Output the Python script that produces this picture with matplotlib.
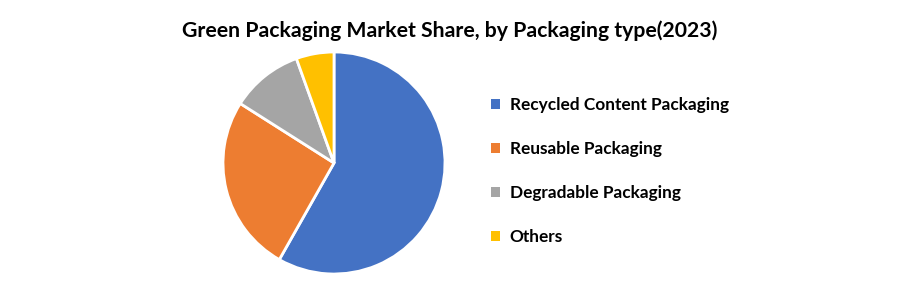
import matplotlib
matplotlib.use("Agg")
import matplotlib.pyplot as plt

categories = ["Recycled Content Packaging", "Reusable Packaging", "Degradable Packaging", "Others"]
shares = [58.2, 25.8, 10.5, 5.5]
colors = ["#4472C4", "#ED7D31", "#A5A5A5", "#FFC000"]
title = "Green Packaging Market Share, by Packaging type(2023)"

plt.rcParams['font.family'] = ['Lato', 'DejaVu Sans']

W, H = 900, 282
fig = plt.figure(figsize=(W / 100, H / 100), dpi=100)
cx, cy, r = 334, 163, 111
ax = fig.add_axes([(cx - r) / W, (H - cy - r) / H, 2 * r / W, 2 * r / H])
wedges, _ = ax.pie(shares, colors=colors, startangle=90, counterclock=False,
                   wedgeprops=dict(edgecolor="white", linewidth=2), radius=1)
ax.set_xlim(-1, 1)
ax.set_ylim(-1, 1)
ax.set_aspect('equal')

fig.text(450 / W, 1 - 31 / H, title, ha='center', va='center',
         fontsize=15.3, fontweight='bold', color='black')

leg = fig.legend(wedges, categories, loc='upper left',
                 bbox_to_anchor=(476 / W, 1 - 81.5 / H), frameon=False,
                 handlelength=0.5, handleheight=0.5, handletextpad=0.55,
                 labelspacing=1.63, prop=dict(size=12.4, weight='bold'))
for h in leg.legend_handles:
    h.set_linewidth(0)

fig.savefig("out.png", dpi=100, facecolor='white')
